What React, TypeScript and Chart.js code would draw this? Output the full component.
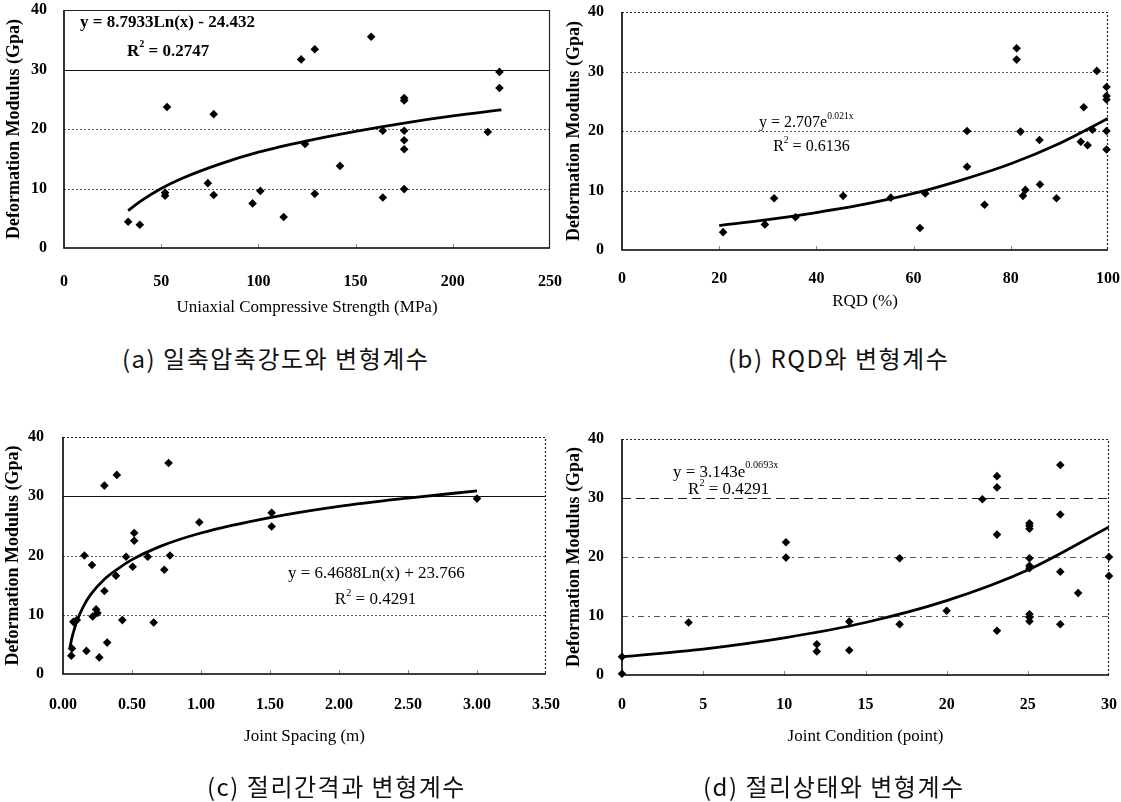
import React, { useEffect, useRef } from "react";
import { Chart, registerables } from "chart.js";

Chart.register(...registerables);
Chart.defaults.color = "#000";

// ---------------- data ----------------
// (a) Uniaxial compressive strength vs deformation modulus
const ucsX = [33, 39, 52, 52, 53, 74, 77, 77, 97, 101, 113, 122, 124, 129, 129, 142, 158, 164, 164, 175, 175, 175, 175, 175, 175, 218, 224, 224];
const ucsY = [4.4, 3.9, 9.3, 8.8, 23.7, 10.9, 22.5, 8.9, 7.5, 9.6, 5.2, 31.7, 17.5, 33.4, 9.1, 13.8, 35.5, 19.7, 8.5, 25.2, 24.8, 19.7, 18.1, 16.6, 9.9, 19.5, 29.6, 26.9];
const ucsTrendX = [33, 40, 50, 60, 80, 100, 125, 150, 175, 200, 225];
const ucsTrendY = [6.3, 8.0, 10.0, 11.6, 14.1, 16.1, 18.0, 19.6, 21.0, 22.2, 23.2];

// (b) RQD vs deformation modulus
const rqdX = [20.8, 29.4, 31.3, 35.7, 45.5, 55.3, 61.3, 62.4, 71, 71, 74.6, 81.2, 81.2, 82, 82.5, 83, 85.9, 86, 89.4, 94.4, 95, 95.8, 96.8, 97.7, 99.7, 99.7, 99.7, 99.7, 99.7];
const rqdY = [3.0, 4.3, 8.7, 5.5, 9.1, 8.8, 3.7, 9.5, 20, 14, 7.6, 33.9, 32, 19.9, 9.1, 10.1, 18.5, 11, 8.7, 18.2, 24, 17.6, 20.2, 30.1, 27.4, 25.9, 25.3, 20, 16.9];
const rqdTrendX = [20, 30, 40, 50, 60, 70, 80, 90, 100];
const rqdTrendY = [4.1, 5.1, 6.3, 7.7, 9.5, 11.8, 14.5, 17.9, 22.1];

// (c) Joint spacing vs deformation modulus
const jsX = [0.06, 0.065, 0.075, 0.1, 0.155, 0.17, 0.21, 0.215, 0.24, 0.25, 0.263, 0.3, 0.3, 0.32, 0.384, 0.39, 0.43, 0.457, 0.505, 0.516, 0.516, 0.614, 0.657, 0.734, 0.765, 0.775, 0.988, 1.512, 1.512, 3.0];
const jsY = [3.1, 4.3, 8.8, 9.1, 20, 3.9, 18.4, 9.7, 10.9, 10.3, 2.8, 31.8, 14, 5.3, 16.6, 33.6, 9.1, 19.8, 18.1, 23.8, 22.5, 19.8, 8.7, 17.6, 35.6, 20, 25.6, 27.2, 24.9, 29.6];
const jsTrendX = [0.05, 0.06, 0.07, 0.08, 0.1, 0.15, 0.2, 0.3, 0.4, 0.5, 0.7, 1.0, 1.5, 2.0, 2.5, 3.0];
const jsTrendY = [4.4, 5.6, 6.6, 7.4, 8.9, 11.5, 13.4, 16.0, 17.8, 19.3, 21.5, 23.8, 26.4, 28.3, 29.7, 30.9];

// (d) Joint condition vs deformation modulus
const jcX = [0, 0, 4.1, 10.1, 10.1, 12, 12, 14, 14, 17.1, 17.1, 20, 22.2, 23.1, 23.1, 23.1, 23.1, 25.1, 25.1, 25.1, 25.1, 25.1, 25.1, 25.1, 25.1, 25.1, 27, 27, 27, 27, 28.1, 30, 30];
const jcY = [3.1, 0.2, 8.9, 22.5, 19.9, 5.2, 4.0, 9.05, 4.2, 19.8, 8.6, 10.9, 29.8, 33.7, 31.8, 23.8, 7.5, 25.7, 25.3, 24.8, 19.8, 18.5, 18.1, 10.3, 9.8, 9.1, 35.6, 27.2, 17.5, 8.6, 13.9, 20, 16.8];
const jcTrendX = [0, 5, 10, 15, 20, 25, 30];
const jcTrendY = [3.1, 4.4, 6.3, 8.9, 12.6, 17.8, 25.1];

// axis texts
const yTitle = "Deformation Modulus (Gpa)";
const xTitles = ["Uniaxial Compressive Strength (MPa)", "RQD (%)", "Joint Spacing (m)", "Joint Condition (point)"];
const captions = ["(a) 일축압축강도와 변형계수", "(b) RQD와 변형계수", "(c) 절리간격과 변형계수", "(d) 절리상태와 변형계수"];
const yTicks = [0, 10, 20, 30, 40];

// ---------------- styling / layout ----------------
const SERIF = "'Liberation Serif', 'Times New Roman', serif";

type Part = [string, boolean];
type GridLine = { value: number; dash: number[]; color: string; width: number };
type Eq = { x: number; y: number; parts: Part[]; size: number; bold?: boolean };

interface Spec {
  left: number; top: number; width: number; height: number;
  pad: { left: number; right: number; top: number; bottom: number };
  yAxisWidth: number; xAxisHeight: number; yTickPad: number; xTickPad: number;
  xMin: number; xMax: number; xStep: number; xDecimals: number;
  xTitle: string;
  px: number[]; py: number[]; tx: number[]; ty: number[];
  grid: GridLine[]; frameDash: number[];
  eqs: Eq[];
}

const dotted = (v: number): GridLine => ({ value: v, dash: [2, 2], color: "#555", width: 1 });
const solid = (v: number): GridLine => ({ value: v, dash: [], color: "#111", width: 1.2 });

const specs: Spec[] = [
  {
    left: 0, top: 0, width: 575, height: 340,
    pad: { left: 4, right: 25, top: 10, bottom: 22 },
    yAxisWidth: 60, xAxisHeight: 70, yTickPad: 17, xTickPad: 24,
    xMin: 0, xMax: 250, xStep: 50, xDecimals: 0, xTitle: xTitles[0],
    px: ucsX, py: ucsY, tx: ucsTrendX, ty: ucsTrendY,
    grid: [dotted(10), dotted(20), solid(30)], frameDash: [],
    eqs: [
      { x: 8.2, y: 37.8, size: 17, bold: true, parts: [["y = 8.7933Ln(x) - 24.432", false]] },
      { x: 32.4, y: 33.0, size: 17, bold: true, parts: [["R", false], ["2", true], [" = 0.2747", false]] },
    ],
  },
  {
    left: 555, top: 0, width: 566, height: 340,
    pad: { left: 9, right: 13, top: 12, bottom: 28 },
    yAxisWidth: 58, xAxisHeight: 62, yTickPad: 18, xTickPad: 19,
    xMin: 0, xMax: 100, xStep: 20, xDecimals: 0, xTitle: xTitles[1],
    px: rqdX, py: rqdY, tx: rqdTrendX, ty: rqdTrendY,
    grid: [dotted(10), dotted(20), dotted(30)], frameDash: [2, 2],
    eqs: [
      { x: 28.2, y: 21.3, size: 16, parts: [["y = 2.707e", false], ["0.021x", true]] },
      { x: 31.1, y: 17.3, size: 16, parts: [["R", false], ["2", true], [" = 0.6136", false]] },
    ],
  },
  {
    left: 0, top: 400, width: 575, height: 402,
    pad: { left: 3, right: 29, top: 37, bottom: 55 },
    yAxisWidth: 60, xAxisHeight: 73, yTickPad: 19, xTickPad: 21,
    xMin: 0, xMax: 3.5, xStep: 0.5, xDecimals: 2, xTitle: xTitles[2],
    px: jsX, py: jsY, tx: jsTrendX, ty: jsTrendY,
    grid: [dotted(10), dotted(20), solid(30)], frameDash: [2, 2],
    eqs: [
      { x: 1.63, y: 17.0, size: 17, parts: [["y = 6.4688Ln(x) + 23.766", false]] },
      { x: 1.97, y: 12.5, size: 17, parts: [["R", false], ["2", true], [" = 0.4291", false]] },
    ],
  },
  {
    left: 555, top: 400, width: 566, height: 402,
    pad: { left: 9, right: 12, top: 39, bottom: 55 },
    yAxisWidth: 58, xAxisHeight: 72, yTickPad: 18, xTickPad: 20,
    xMin: 0, xMax: 30, xStep: 5, xDecimals: 0, xTitle: xTitles[3],
    px: jcX, py: jcY, tx: jcTrendX, ty: jcTrendY,
    grid: [
      { value: 10, dash: [6, 4, 2, 4], color: "#555", width: 1 },
      { value: 20, dash: [6, 4, 2, 4], color: "#555", width: 1 },
      { value: 30, dash: [9, 5], color: "#222", width: 1.2 },
    ],
    frameDash: [2, 2],
    eqs: [
      { x: 3.14, y: 34.4, size: 17, parts: [["y = 3.143e", false], ["0.0693x", true]] },
      { x: 4.07, y: 31.4, size: 17, parts: [["R", false], ["2", true], [" = 0.4291", false]] },
    ],
  },
];

const captionPos = [
  { left: 122, cy: 358 },
  { left: 728, cy: 358 },
  { left: 207, cy: 786 },
  { left: 703, cy: 786 },
];

function drawRich(ctx: CanvasRenderingContext2D, x: number, y: number, parts: Part[], size: number, bold?: boolean) {
  let cx = x;
  const w = bold ? "bold " : "";
  for (const [t, sup] of parts) {
    const s = sup ? size * 0.6 : size;
    ctx.font = `${w}${s}px ${SERIF}`;
    ctx.fillText(t, cx, sup ? y - size * 0.4 : y);
    cx += ctx.measureText(t).width;
  }
}

function makeDecor(spec: Spec) {
  return {
    id: "panelDecor",
    beforeDatasetsDraw(chart: any) {
      const { ctx, chartArea: a, scales } = chart;
      const xs = scales.x, ys = scales.y;
      ctx.save();
      for (const g of spec.grid) {
        const yy = Math.round(ys.getPixelForValue(g.value)) + 0.5;
        ctx.beginPath();
        ctx.setLineDash(g.dash);
        ctx.strokeStyle = g.color;
        ctx.lineWidth = g.width;
        ctx.moveTo(a.left, yy);
        ctx.lineTo(a.right, yy);
        ctx.stroke();
      }
      // small inner tick marks on the x axis
      ctx.setLineDash([]);
      ctx.strokeStyle = "#888";
      ctx.lineWidth = 1;
      for (const t of xs.ticks) {
        const xx = Math.round(xs.getPixelForValue(t.value)) + 0.5;
        if (xx <= a.left + 2 || xx >= a.right - 2) continue;
        ctx.beginPath();
        ctx.moveTo(xx, a.bottom);
        ctx.lineTo(xx, a.bottom - 4);
        ctx.stroke();
      }
      // frame: top & right
      ctx.setLineDash(spec.frameDash);
      ctx.strokeStyle = "#222";
      ctx.lineWidth = 1.2;
      ctx.beginPath();
      ctx.moveTo(a.left, a.top + 0.5);
      ctx.lineTo(a.right - 0.5, a.top + 0.5);
      ctx.lineTo(a.right - 0.5, a.bottom);
      ctx.stroke();
      // frame: left & bottom
      ctx.setLineDash([]);
      ctx.strokeStyle = "#000";
      ctx.lineWidth = 1.6;
      ctx.beginPath();
      ctx.moveTo(a.left, a.top);
      ctx.lineTo(a.left, a.bottom);
      ctx.lineTo(a.right, a.bottom);
      ctx.stroke();
      ctx.restore();
    },
    afterDatasetsDraw(chart: any) {
      const { ctx, scales } = chart;
      ctx.save();
      ctx.fillStyle = "#000";
      ctx.textBaseline = "middle";
      ctx.textAlign = "left";
      for (const e of spec.eqs) {
        drawRich(ctx, scales.x.getPixelForValue(e.x), scales.y.getPixelForValue(e.y), e.parts, e.size, e.bold);
      }
      ctx.restore();
    },
  };
}

function Panel({ spec }: { spec: Spec }) {
  const ref = useRef<HTMLCanvasElement | null>(null);
  useEffect(() => {
    if (!ref.current) return;
    const hiddenGrid = (len: number) => ({
      display: true,
      drawOnChartArea: false,
      drawTicks: true,
      tickLength: len,
      color: "rgba(0,0,0,0)",
      tickColor: "rgba(0,0,0,0)",
    });
    const chart = new Chart(ref.current, {
      type: "scatter",
      data: {
        datasets: [
          {
            label: "trend",
            data: spec.tx.map((x, i) => ({ x, y: spec.ty[i] })),
            showLine: true,
            borderColor: "#000",
            borderWidth: 2.8,
            pointRadius: 0,
            cubicInterpolationMode: "monotone",
            fill: false,
          } as any,
          {
            label: "data",
            data: spec.px.map((x, i) => ({ x, y: spec.py[i] })),
            pointStyle: "rectRot",
            pointRadius: 4.3,
            backgroundColor: "#000",
            borderColor: "#000",
            borderWidth: 0,
            clip: false,
          } as any,
        ],
      },
      options: {
        responsive: false,
        animation: false,
        devicePixelRatio: 1,
        layout: { padding: spec.pad },
        plugins: { legend: { display: false }, tooltip: { enabled: false } },
        scales: {
          x: {
            type: "linear",
            min: spec.xMin,
            max: spec.xMax,
            grid: hiddenGrid(spec.xTickPad),
            border: { display: false },
            ticks: {
              stepSize: spec.xStep,
              padding: 0,
              maxRotation: 0,
              autoSkip: false,
              color: "#000",
              font: { family: SERIF, size: 16, weight: "bold" },
              callback: (v: any) => Number(v).toFixed(spec.xDecimals),
            },
            title: {
              display: true,
              text: spec.xTitle,
              color: "#000",
              padding: 0,
              font: { family: SERIF, size: 17 },
            },
            afterFit: (s: any) => { s.height = spec.xAxisHeight; },
          },
          y: {
            type: "linear",
            min: 0,
            max: 40,
            afterBuildTicks: (s: any) => { s.ticks = yTicks.map((v) => ({ value: v })); },
            grid: hiddenGrid(spec.yTickPad),
            border: { display: false },
            ticks: {
              padding: 0,
              color: "#000",
              font: { family: SERIF, size: 16, weight: "bold" },
            },
            title: {
              display: true,
              text: yTitle,
              color: "#000",
              padding: 0,
              font: { family: SERIF, size: 18, weight: "bold" },
            },
            afterFit: (s: any) => { s.width = spec.yAxisWidth; },
          },
        },
      } as any,
      plugins: [makeDecor(spec)],
    });
    return () => chart.destroy();
  }, [spec]);
  return (
    <canvas
      ref={ref}
      width={spec.width}
      height={spec.height}
      style={{ position: "absolute", left: spec.left, top: spec.top, width: spec.width, height: spec.height }}
    />
  );
}

export default function App() {
  return (
    <div style={{ position: "absolute", left: 0, top: 0, width: 1121, height: 802, background: "#fff", overflow: "hidden" }}>
      {specs.map((s, i) => (
        <Panel key={i} spec={s} />
      ))}
      {captions.map((c, i) => (
        <div
          key={"c" + i}
          style={{
            position: "absolute",
            left: captionPos[i].left,
            top: captionPos[i].cy - 16,
            height: 32,
            lineHeight: "32px",
            fontFamily: "'Noto Sans CJK KR', sans-serif",
            fontSize: 24,
            letterSpacing: 1.5,
            color: "#111",
            whiteSpace: "nowrap",
          }}
        >
          {c}
        </div>
      ))}
    </div>
  );
}
